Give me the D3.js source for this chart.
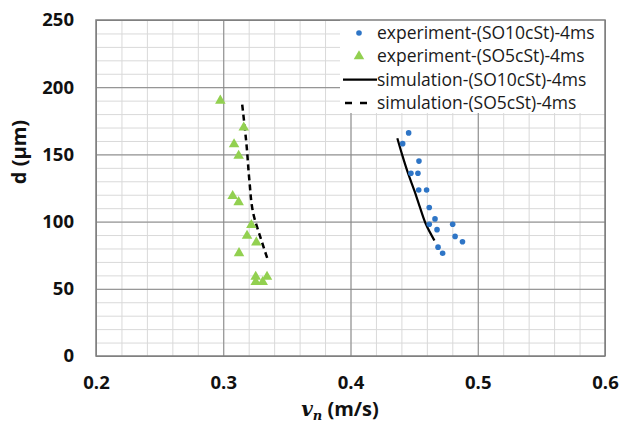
<!doctype html>
<html>
<head>
<style>
  body { margin: 0; background: #fff; }
  text { font-family: "Open Sans", "Liberation Sans", sans-serif; }
</style>
</head>
<body>
<div id="chart"></div>
<script src="https://d3js.org/d3.v7.min.js"></script>
<script>
// data
var exp10V = [0.4457, 0.441, 0.4538, 0.4475, 0.453, 0.4536, 0.4598, 0.4619, 0.4664, 0.4619, 0.4803, 0.468, 0.4822, 0.488, 0.4688, 0.4724];
var exp10D = [166, 158, 145, 136, 136, 123.5, 123.5, 110.5, 102, 98, 98, 94, 89, 85, 81, 76.5];
var exp5V = [0.2977, 0.3161, 0.3085, 0.3121, 0.3074, 0.3121, 0.3221, 0.3187, 0.326, 0.3124, 0.3255, 0.3344, 0.3255, 0.331];
var exp5D = [190, 170, 157.5, 149, 119, 114.5, 97.5, 89.5, 84.5, 76.5, 59, 59, 55, 55];
var sim10V = [0.4368, 0.4405, 0.4452, 0.4502, 0.4548, 0.4593, 0.4659];
var sim10D = [162, 150, 136, 123, 110, 98, 86];
var sim5V = [0.3149, 0.3184, 0.3205, 0.3236, 0.330, 0.3352];
var sim5D = [187, 156, 131, 106, 86, 71];
var xTicks = [0.2, 0.3, 0.4, 0.5, 0.6];
var yTicks = [0, 50, 100, 150, 200, 250];
var legendLabels = ["experiment-(SO10cSt)-4ms", "experiment-(SO5cSt)-4ms", "simulation-(SO10cSt)-4ms", "simulation-(SO5cSt)-4ms"];

var W = 620, H = 424;
var margin = {top: 20, right: 15, bottom: 68, left: 96};
var width = W - margin.left - margin.right,
    height = H - margin.top - margin.bottom;

var svg = d3.select("#chart").append("svg")
    .attr("width", W).attr("height", H);
var g = svg.append("g")
    .attr("transform", "translate(" + margin.left + "," + margin.top + ")");

var x = d3.scaleLinear().domain([0.2, 0.6]).range([0, width]);
var y = d3.scaleLinear().domain([0, 250]).range([height, 0]);

// minor grid
g.append("g")
    .attr("transform", "translate(0," + height + ")")
    .call(d3.axisBottom(x).tickValues(d3.range(0.2, 0.6001, 0.02)).tickSize(-height).tickFormat(""))
    .call(function(s) { s.select(".domain").remove(); s.selectAll("line").attr("stroke", "#d9d9d9"); });
g.append("g")
    .call(d3.axisLeft(y).tickValues(d3.range(0, 251, 10)).tickSize(-width).tickFormat(""))
    .call(function(s) { s.select(".domain").remove(); s.selectAll("line").attr("stroke", "#d9d9d9"); });

// major grid + labels
g.append("g")
    .attr("transform", "translate(0," + height + ")")
    .call(d3.axisBottom(x).tickValues(xTicks).tickSize(-height).tickPadding(20).tickFormat(d3.format(".1f")))
    .call(function(s) {
        s.select(".domain").remove();
        s.selectAll("line").attr("stroke", "#868686");
        s.selectAll("text").attr("font-size", "18.5px").attr("font-weight", "bold").attr("fill", "#111");
    });
g.append("g")
    .call(d3.axisLeft(y).tickValues(yTicks).tickSize(-width).tickPadding(22))
    .call(function(s) {
        s.select(".domain").remove();
        s.selectAll("line").attr("stroke", "#868686");
        s.selectAll("text").attr("font-size", "18.5px").attr("font-weight", "bold").attr("fill", "#111");
    });

// legend background
g.append("rect")
    .attr("x", 244).attr("y", 0).attr("width", width - 244).attr("height", 93)
    .attr("fill", "#fff");

// plot border
g.append("rect")
    .attr("width", width).attr("height", height)
    .attr("fill", "none").attr("stroke", "#7f7f7f").attr("stroke-width", 1.5);

var line = d3.line().x(function(d) { return x(d[0]); }).y(function(d) { return y(d[1]); })
    .curve(d3.curveMonotoneY);

g.append("path")
    .datum(d3.zip(sim10V, sim10D))
    .attr("fill", "none").attr("stroke", "#000").attr("stroke-width", 2.2)
    .attr("d", line);
g.append("path")
    .datum(d3.zip(sim5V, sim5D))
    .attr("fill", "none").attr("stroke", "#000").attr("stroke-width", 2.5)
    .attr("stroke-dasharray", "6,4")
    .attr("d", line);

g.selectAll(".dot")
    .data(d3.zip(exp10V, exp10D))
    .enter().append("circle")
    .attr("cx", function(d) { return x(d[0]); })
    .attr("cy", function(d) { return y(d[1]); })
    .attr("r", 2.8)
    .attr("fill", "#2e75c6");

var tri = d3.symbol().type(d3.symbolTriangle).size(48);
g.selectAll(".tri")
    .data(d3.zip(exp5V, exp5D))
    .enter().append("path")
    .attr("transform", function(d) { return "translate(" + x(d[0]) + "," + y(d[1]) + ")"; })
    .attr("d", tri)
    .attr("fill", "#92d050");

// legend
var leg = g.append("g").attr("transform", "translate(247,0)");
var rows = leg.selectAll("g").data(legendLabels).enter().append("g")
    .attr("transform", function(d, i) { return "translate(0," + (13 + i * 23.3) + ")"; });
rows.append("text")
    .attr("x", 34).attr("dy", "0.35em")
    .attr("font-size", "17.5px").attr("fill", "#1a1a1a")
    .text(function(d) { return d; });
leg.append("circle").attr("cx", 16).attr("cy", 13).attr("r", 2.8).attr("fill", "#2e75c6");
leg.append("path").attr("transform", "translate(16," + (13 + 23.3) + ")").attr("d", tri).attr("fill", "#92d050");
leg.append("line").attr("x1", 0).attr("x2", 34).attr("y1", 13 + 2 * 23.3).attr("y2", 13 + 2 * 23.3)
    .attr("stroke", "#000").attr("stroke-width", 2.2);
leg.append("line").attr("x1", 2).attr("x2", 32).attr("y1", 13 + 3 * 23.3).attr("y2", 13 + 3 * 23.3)
    .attr("stroke", "#000").attr("stroke-width", 2.5).attr("stroke-dasharray", "7,8");

// axis titles
var xt = svg.append("text")
    .attr("x", 340).attr("y", 416)
    .attr("text-anchor", "middle")
    .attr("font-size", "20px").attr("font-weight", "bold").attr("fill", "#111");
xt.append("tspan").attr("font-family", "DejaVu Serif").attr("font-style", "italic").text("v");
xt.append("tspan").attr("font-family", "DejaVu Serif").attr("font-style", "italic")
    .attr("font-size", "13px").attr("dy", 4).text("n");
xt.append("tspan").attr("dy", -4).text(" (m/s)");

svg.append("text")
    .attr("transform", "translate(26,152) rotate(-90)")
    .attr("text-anchor", "middle")
    .attr("font-size", "20px").attr("font-weight", "bold").attr("fill", "#111")
    .text("d (μm)");
</script>
</body>
</html>
